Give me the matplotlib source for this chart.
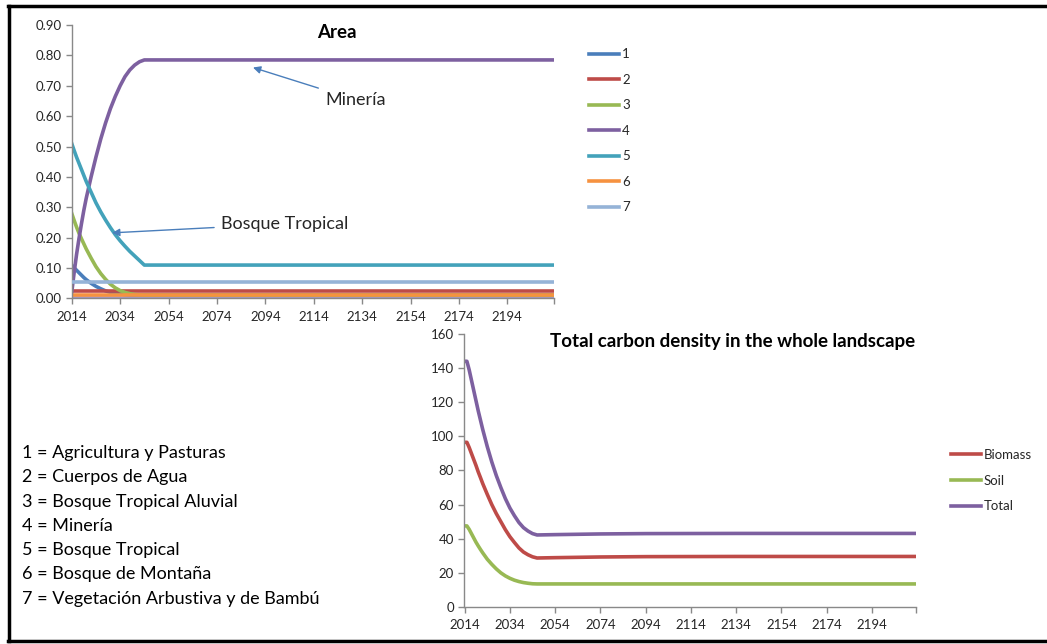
import matplotlib
matplotlib.use("Agg")
import matplotlib.pyplot as plt
from matplotlib.lines import Line2D

plt.rcParams['font.family'] = ['Lato', 'DejaVu Sans']

# --- Area chart data (fraction of landscape) ---
area_years = [2014, 2015, 2016, 2017, 2018, 2019, 2020, 2022, 2024, 2026, 2028, 2030,
              2032, 2034, 2036, 2038, 2040, 2042, 2044, 2213]
agricultura = [0.11, 0.101, 0.093, 0.085, 0.077, 0.069, 0.062, 0.05, 0.04, 0.032, 0.025, 0.02,
               0.017, 0.015, 0.013, 0.012, 0.012, 0.012, 0.012, 0.012]
aluvial = [0.28, 0.257, 0.235, 0.215, 0.197, 0.18, 0.163, 0.133, 0.105, 0.082, 0.063, 0.047,
           0.035, 0.026, 0.02, 0.016, 0.013, 0.012, 0.011, 0.011]
mineria = [0.02, 0.085, 0.145, 0.197, 0.245, 0.29, 0.33, 0.40, 0.465, 0.525, 0.578, 0.625,
           0.665, 0.70, 0.73, 0.752, 0.768, 0.779, 0.785, 0.785]
tropical = [0.51, 0.487, 0.465, 0.445, 0.425, 0.405, 0.385, 0.35, 0.315, 0.285, 0.258, 0.233,
            0.21, 0.19, 0.172, 0.155, 0.14, 0.125, 0.11, 0.11]
flat_years = [2014, 2213]
agua = [0.025, 0.025]
montana = [0.013, 0.013]
arbustiva = [0.055, 0.055]
unlabeled = [0.003, 0.003]

area_labels = ['1', '2', '3', '4', '5', '6', '7']
area_ticks = [2014, 2034, 2054, 2074, 2094, 2114, 2134, 2154, 2174, 2194]
key_lines = ['1 = Agricultura y Pasturas', '2 = Cuerpos de Agua',
             '3 = Bosque Tropical Aluvial', '4 = Minería', '5 = Bosque Tropical',
             '6 = Bosque de Montaña', '7 = Vegetación Arbustiva y de Bambú']

# --- Carbon density data ---
c_years = [2014, 2015, 2016, 2017, 2018, 2019, 2020, 2021, 2022, 2024, 2026, 2028,
           2030, 2032, 2034, 2036, 2038, 2040, 2042, 2044, 2046, 2054, 2074, 2094,
           2134, 2213]
soil = [47.5, 47.5, 45.5, 43, 40.5, 38, 35.8, 33.7, 31.7, 28, 25, 22.3,
        20, 18.2, 16.8, 15.7, 14.9, 14.3, 13.9, 13.6, 13.5, 13.5, 13.5, 13.5,
        13.5, 13.5]
biomass = [96.5, 96.5, 93.5, 90, 86.5, 83, 79.2, 75.8, 72.3, 66, 60, 54.7,
           50, 45.3, 41.2, 37.8, 34.6, 32.2, 30.6, 29.4, 28.7, 28.9, 29.3, 29.5,
           29.6, 29.6]
total = [144, 144, 139, 133, 127, 121, 115, 109.5, 104, 94, 85, 77,
         70, 63.5, 58, 53.5, 49.5, 46.5, 44.5, 43, 42.2, 42.4, 42.8, 43.0,
         43.1, 43.1]

grey = '#898989'
txt = '#262626'

def style_axis(ax):
    for s in ['top', 'right']:
        ax.spines[s].set_visible(False)
    for s in ['left', 'bottom']:
        ax.spines[s].set_color(grey)
        ax.spines[s].set_linewidth(1)
    ax.tick_params(direction='out', length=4, width=1, color=grey,
                   labelsize=9.5, labelcolor=txt, pad=3)
    ax.tick_params(axis='x', pad=5)

fig = plt.figure(figsize=(10.47, 6.44), dpi=100)

# top chart
ax1 = fig.add_axes([0.0685, 0.5365, 0.4607, 0.4247])
lw = 2.6
ax1.plot(flat_years, unlabeled, color='#A497C4', lw=lw, zorder=1.5)
ax1.plot(area_years, agricultura, color='#4A7EBB', lw=lw, label=area_labels[0], zorder=2)
ax1.plot(flat_years, agua, color='#BE4B48', lw=lw, label=area_labels[1], zorder=2.1)
ax1.plot(area_years, aluvial, color='#98B954', lw=lw, label=area_labels[2], zorder=2.2)
ax1.plot(area_years, mineria, color='#7D60A0', lw=lw, label=area_labels[3], zorder=2.3)
ax1.plot(area_years, tropical, color='#43A2BA', lw=lw, label=area_labels[4], zorder=2.4)
ax1.plot(flat_years, montana, color='#F69240', lw=lw, label=area_labels[5], zorder=2.5)
ax1.plot(flat_years, arbustiva, color='#95B3D7', lw=lw, label=area_labels[6], zorder=2.6)
ax1.set_xlim(2014, 2213.3)
ax1.set_ylim(0, 0.9)
ax1.set_yticks([i / 10 for i in range(10)])
ax1.set_yticklabels(['%.2f' % (i / 10) for i in range(10)])
ax1.set_xticks(area_ticks + [2213.3])
ax1.set_xticklabels([str(t) for t in area_ticks] + [''])
style_axis(ax1)
fig.text(337 / 1047, 1 - 33 / 644, 'Area', fontsize=13.5, fontweight='bold',
         color='black', ha='center', va='center')

arrow = dict(arrowstyle='-|>', color='#4A7EBB', lw=1, shrinkA=3, shrinkB=0,
             mutation_scale=11)
ax1.annotate('Minería', xy=(2088.9, 0.76), xytext=(2118.7, 0.654), fontsize=13,
             color=txt, ha='left', va='center', arrowprops=arrow)
ax1.annotate('Bosque Tropical', xy=(2030.7, 0.216), xytext=(2075.7, 0.2456),
             fontsize=13, color=txt, ha='left', va='center', arrowprops=arrow)

ax1.legend(loc='upper left', bbox_to_anchor=(589 / 1047, 1 - 48.5 / 644),
           bbox_transform=fig.transFigure, frameon=False, fontsize=9.5,
           handlelength=2.3, handletextpad=0.2, labelspacing=1.02,
           borderpad=0, borderaxespad=0, labelcolor=txt)

# bottom chart
ax2 = fig.add_axes([0.4427, 0.0575, 0.4322, 0.4239])
ax2.plot(c_years, biomass, color='#BE4B48', lw=lw, label='Biomass')
ax2.plot(c_years, soil, color='#98B954', lw=lw, label='Soil')
ax2.plot(c_years, total, color='#7D60A0', lw=lw, label='Total')
ax2.set_xlim(2013.5, 2213.5)
ax2.set_ylim(0, 160)
ax2.set_yticks(range(0, 161, 20))
ax2.set_xticks(area_ticks + [2213.5])
ax2.set_xticklabels([str(t) for t in area_ticks] + [''])
style_axis(ax2)
fig.text(733 / 1047, 1 - 341 / 644, 'Total carbon density in the whole landscape',
         fontsize=13.5, fontweight='bold', color='black', ha='center', va='center')
ax2.legend(loc='upper left', bbox_to_anchor=(951 / 1047, 1 - 449 / 644),
           bbox_transform=fig.transFigure, frameon=False, fontsize=9.5,
           handlelength=2.3, handletextpad=0.2, labelspacing=1.04,
           borderpad=0, borderaxespad=0, labelcolor=txt)

# key for land cover classes
for i, line in enumerate(key_lines):
    fig.text(22 / 1047, 1 - (453 + i * 24.3) / 644, line, fontsize=13,
             color='black', ha='left', va='center')

# frame
fig.add_artist(Line2D([8 / 1047, 1], [1 - 6 / 644, 1 - 6 / 644], color='black', lw=2.5,
                      transform=fig.transFigure))
fig.add_artist(Line2D([9 / 1047, 9 / 1047], [1 - 6 / 644, 1 - 641 / 644], color='black',
                      lw=2.5, transform=fig.transFigure))
fig.add_artist(Line2D([8 / 1047, 1], [1 - 641 / 644, 1 - 641 / 644], color='black',
                      lw=2.5, transform=fig.transFigure))

fig.savefig('out.png', dpi=100)
